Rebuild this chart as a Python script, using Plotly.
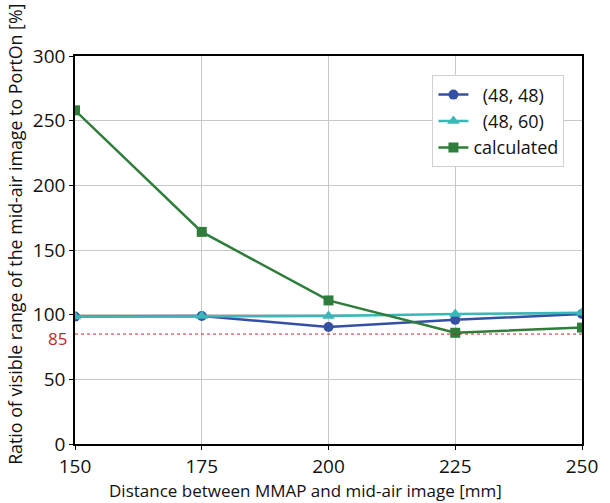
import plotly.graph_objects as go

distance = [150, 175, 200, 225, 250]
s_48_48 = [98.5, 99, 90.5, 96, 100.5]
s_48_60 = [98.5, 99, 99, 100.5, 101.5]
calculated = [258, 164, 111, 86, 90]
threshold = 85
y_ticks = [0, 50, 100, 150, 200, 250, 300]
x_ticks = [150, 175, 200, 225, 250]

font = "Open Sans"
fig = go.Figure()
fig.add_trace(go.Scatter(x=distance, y=s_48_48, name="  (48, 48)", mode="lines+markers",
                         line=dict(color="#3350a3", width=2.5),
                         marker=dict(symbol="circle", size=10, color="#3350a3")))
fig.add_trace(go.Scatter(x=distance, y=s_48_60, name="  (48, 60)", mode="lines+markers",
                         line=dict(color="#3bb7b7", width=2.5),
                         marker=dict(symbol="triangle-up", size=11, color="#3bb7b7")))
fig.add_trace(go.Scatter(x=distance, y=calculated, name="calculated", mode="lines+markers",
                         line=dict(color="#2e7d3a", width=2.5),
                         marker=dict(symbol="square", size=10, color="#2e7d3a")))
fig.add_trace(go.Scatter(x=[distance[0], distance[-1]], y=[threshold, threshold], mode="lines",
                         line=dict(color="#c0282a", width=1, dash="dot"), showlegend=False,
                         hoverinfo="skip"))

fig.add_annotation(x=0, xref="paper", y=threshold, yref="y", text=str(threshold),
                   showarrow=False, xanchor="right", xshift=-6, yshift=-4,
                   font=dict(color="#c0282a", size=17, family=font))
# axis titles
fig.add_annotation(x=0.455, xref="paper", y=0, yref="paper", yshift=-46,
                   text="Distance between MMAP and mid-air image [mm]", showarrow=False,
                   xanchor="center", yanchor="middle", font=dict(size=17, family=font))
fig.add_annotation(x=0, xref="paper", xshift=-60, y=0.539, yref="paper",
                   text="Ratio of visible range of the mid-air image to PortOn [%]", showarrow=False,
                   textangle=-90, xanchor="center", yanchor="middle", font=dict(size=17.8, family=font))

fig.update_layout(
    width=610, height=503,
    margin=dict(l=75, r=25, t=56, b=59),
    paper_bgcolor="white", plot_bgcolor="white",
    font=dict(family=font, size=18, color="#111"),
    legend=dict(x=0.705, y=0.95, xanchor="left", yanchor="top",
                bordercolor="#d0d0d0", borderwidth=1, bgcolor="white",
                font=dict(size=18, family=font), tracegroupgap=0),
    showlegend=True,
)
fig.update_xaxes(range=[150, 250], tickvals=x_ticks, showgrid=True, gridcolor="#c8c8c8",
                 showline=True, linecolor="black", linewidth=1.5, mirror=True,
                 ticks="outside", ticklen=4, tickcolor="black", zeroline=False,
                 tickfont=dict(size=19))
fig.update_yaxes(range=[0, 300], tickvals=y_ticks, showgrid=True, gridcolor="#c8c8c8",
                 showline=True, linecolor="black", linewidth=1.5, mirror=True,
                 ticks="outside", ticklen=4, tickcolor="black", zeroline=False,
                 tickfont=dict(size=19))

fig.write_html("out.html")
